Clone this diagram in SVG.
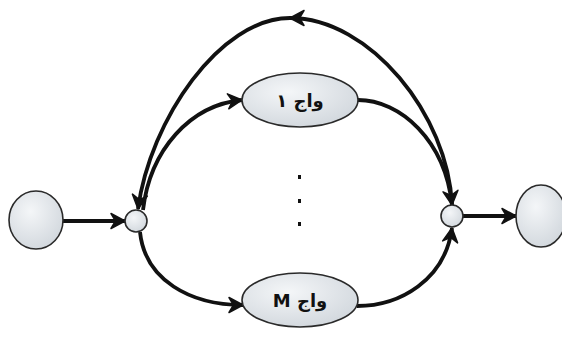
<svg xmlns="http://www.w3.org/2000/svg" width="562" height="340" viewBox="0 0 562 340">
<defs>
<radialGradient id="g" cx="0.4" cy="0.35" r="0.75">
<stop offset="0" stop-color="#f4f6f8"/>
<stop offset="1" stop-color="#cfd5db"/>
</radialGradient>
<marker id="ah" viewBox="-16 -9 18 18" refX="0" refY="0" markerWidth="18" markerHeight="18" markerUnits="userSpaceOnUse" orient="auto">
<path d="M0,0 L-14,-7.5 L-9.5,0 L-14,7.5 Z" fill="#111" stroke="#111" stroke-width="1.5" stroke-linejoin="round"/>
</marker>
<style>
.n{fill:url(#g);stroke:#2a2a2a;stroke-width:1.6}
.c{fill:none;stroke:#111;stroke-width:3.8;stroke-linecap:butt}
.t{font-family:"DejaVu Sans","Noto Sans",sans-serif;font-weight:bold;font-size:18px;fill:#111}
</style>
</defs>
<rect width="562" height="340" fill="#fff"/>
<g id="connectors">
<path class="c" d="M63,221 L125,221" marker-end="url(#ah)"/>
<path class="c" d="M463,216 L516,216" marker-end="url(#ah)"/>
<path class="c" d="M452,205 C448,115 370,18 290,18 C220,18 150,120 138,209" marker-mid="url(#ah)" marker-end="url(#ah)"/>
<path class="c" d="M143,210 C150,150 190,105 242,100" marker-end="url(#ah)"/>
<path class="c" d="M358,100 C400,100 445,140 452,205" marker-end="url(#ah)"/>
<path class="c" d="M140,232 C145,280 190,305 243,305" marker-end="url(#ah)"/>
<path class="c" d="M357,306 C400,306 445,280 452,228" marker-end="url(#ah)"/>
</g>
<g id="start"><ellipse class="n" cx="36" cy="220" rx="27" ry="29"/></g>
<g id="split"><circle class="n" cx="136" cy="221" r="11"/></g>
<g id="merge"><circle class="n" cx="452" cy="216" r="11"/></g>
<g id="end"><ellipse class="n" cx="541" cy="216" rx="25" ry="31"/></g>
<g id="w1">
<ellipse class="n" cx="300" cy="100" rx="58" ry="27"/>
<text class="t" x="300" y="107" text-anchor="middle" direction="rtl" unicode-bidi="embed">واج ۱</text>
</g>
<g id="wM">
<ellipse class="n" cx="300" cy="300" rx="58" ry="27"/>
<text class="t" x="300" y="307" text-anchor="middle" direction="rtl" unicode-bidi="embed">واج M</text>
</g>
<g id="dots" fill="#111">
<rect x="298" y="175" width="3" height="4"/>
<rect x="298" y="199" width="3" height="4"/>
<rect x="298" y="222" width="3" height="4"/>
</g>
</svg>
